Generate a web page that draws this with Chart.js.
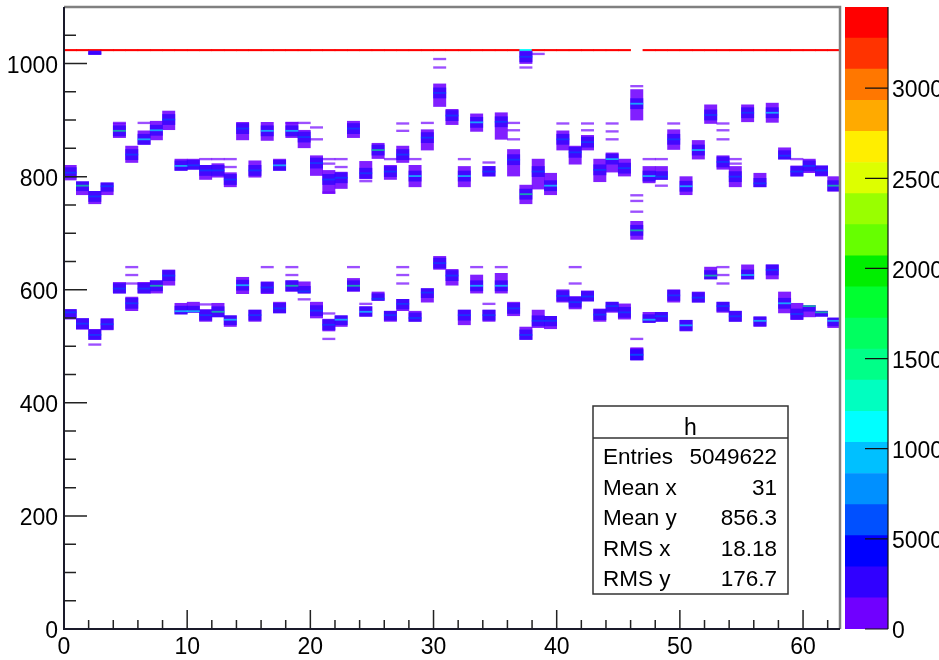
<!DOCTYPE html>
<html>
  <head>
    <meta charset="utf-8" />
    <title>h</title>
    <script src="https://cdn.jsdelivr.net/npm/chart.js@4.4.1/dist/chart.umd.min.js"></script>
    <style>
      body { margin: 0; background: #fff; }
      #wrap { position: relative; width: 939px; height: 660px; overflow: hidden; }
      #wrap canvas { position: absolute; left: 0; top: 0; }
    </style>
  </head>
  <body>
    <div id="wrap">
      <canvas id="hist" width="939" height="660"></canvas>
      <canvas id="pal" width="939" height="660"></canvas>
    </div>
    <script>
      // 2D histogram "h": 63 x bins (width 1), y 0..1100, colz palette 0..34500
      const xMin = 0, xMax = 63, yMin = 0, yMax = 1100, zMax = 34500;

      // upper band of each column: extent, brightest row and its content
      const upperLo = [794,768,752,768,869,825,857,865,883,811, 813,795,799,782,865,799,864,811,869,851,
        802,770,779,869,796,832,795,825,782,847, 924,892,782,880,801,866,801,752,778,768,
        847,822,847,791,808,801,900,789,795,848, 768,831,894,813,782,897,782,896,831,801, 807,801,774];
      const upperHi = [820,791,774,789,895,854,881,898,916,831, 831,820,823,807,896,828,896,831,896,882,
        837,811,808,898,827,859,820,854,820,883, 964,919,818,911,818,913,848,785,831,806,
        881,854,873,831,842,831,954,818,818,883, 800,864,927,837,818,927,806,930,851,819, 831,819,800];
      const upperPeak = [807,784,765,783,881,839,866,882,901,819, 820,811,811,795,885,811,881,820,881,870,
        824,795,798,885,806,847,809,839,801,869, 948,908,801,896,809,897,830,769,809,784,
        866,843,861,812,831,815,929,801,800,866, 783,847,909,826,800,913,788,913,837,809, 819,811,784];
      const upperPeakZ = [6000,14500,6000,6000,14500,6000,11000,11000,6000,11000,
        6000,6000,6000,6000,6000,6000,11000,11000,11000,6000,
        6000,6000,6000,6000,6000,14500,6000,6000,11000,6000,
        6000,6000,11000,11000,6000,6000,6000,14500,6000,11000,
        6000,6000,6000,6000,11000,6000,11000,11000,6000,6000,
        11000,11000,6000,6000,6000,6000,6000,11000,6000,6000, 6000,6000,14500];

      // lower band of each column
      const lowerLo = [548,530,512,529,594,563,594,594,608,557, 560,544,552,535,593,544,593,559,597,594,
        550,527,535,597,553,581,544,563,544,578, 636,608,538,594,544,594,554,512,533,531,
        578,566,580,544,560,548,476,542,544,578, 527,578,619,560,544,619,535,619,559,547, 552,553,533];
      const lowerHi = [565,549,530,549,613,587,613,616,635,576, 578,565,576,554,622,564,614,578,616,614,
        578,548,554,620,570,596,562,583,562,602, 659,636,564,626,564,629,578,534,564,553,
        600,588,598,566,578,575,497,560,560,600, 546,596,640,578,562,644,552,644,596,576, 572,562,550];
      const lowerPeak = [560,540,520,539,602,576,602,607,625,562, 562,555,561,547,608,555,604,567,607,597,
        563,538,547,607,561,584,555,575,550,595, 647,625,555,607,555,607,567,520,545,545,
        589,578,588,556,571,560,485,547,553,590, 537,586,625,571,553,626,545,635,576,557, 571,560,545];
      const lowerPeakZ = [6000,6000,6000,6000,6000,6000,6000,14500,6000,11000,
        11000,6000,14500,11000,11000,6000,6000,6000,14500,6000,
        6000,6000,11000,14500,11000,6000,6000,6000,6000,6000,
        6000,6000,6000,11000,6000,11000,6000,6000,6000,6000,
        6000,6000,6000,6000,6000,6000,6000,11000,6000,6000,
        11000,6000,14500,6000,6000,11000,11000,6000,11000,6000, 14500,14500,11000];

      // isolated blocks outside the two bands
      const extraBin = [2, 37, 46, 46];
      const extraLo = [1016, 1000, 689, 476];
      const extraHi = [1022, 1022, 721, 497];
      const extraPeak = [1018, 1012, 705, 485];
      const extraPeakZ = [3000, 6000, 14500, 6000];

      // single sparse rows
      const strayBin = [4,6,11,12,13,13,18,19,20,20,21,21,21,22,22,24,26,27,27,28,29,30,30,32,34,36,36,36,37,38,
        40,42,42,44,44,44,46,47,48,48,49,53,53,53,54,54,59,
        2,5,5,5,6,11,16,18,18,19,21,21,23,24,27,27,27,33,34,35,41,41,46,46,46,46,53,53,53];
      const strayY = [895,895,831,831,831,817,895,895,887,866,831,823,772,831,817,792,831,894,881,831,895,1008,993,831,825,895,882,866,993,1017,
        894,894,882,894,880,866,960,831,831,784,894,894,882,866,831,823,831,
        503,640,626,611,611,574,640,640,626,583,558,513,640,575,640,626,611,640,575,640,640,611,767,757,738,513,640,626,611];

      // saturated row at y = 1023 (overflow of the digitiser)
      const ceilingY = [1022.5, 1025];
      const ceilingZ = [33500,33500,33500,33500,33500,33500,33500,33500,33500,33500,
        33500,33500,33500,33500,33500,33500,33500,33500,33500,33500,
        33500,33500,33500,33500,33500,33500,33500,33500,33500,33500,
        33500,33500,33500,33500,33500,33500,33500,11000,33500,33500,
        33500,33500,33500,33500,33500,33500,0,33500,33500,33500,
        33500,33500,33500,33500,33500,33500,33500,33500,33500,33500, 33500,33500,33500];

      const bodyZ = 1000, coreZ = 3000, strayZ = 1200;

      // axis ticks and labels
      const xLabels = [0, 10, 20, 30, 40, 50, 60];
      const xMinorTicks = [2,4,6,8,12,14,16,18,22,24,26,28,32,34,36,38,42,44,46,48,52,54,56,58,62];
      const yLabels = [0, 200, 400, 600, 800, 1000];
      const yMinorTicks = [50,100,150,250,300,350,450,500,550,650,700,750,850,900,950,1050];
      const zLabels = [0, 5000, 10000, 15000, 20000, 25000, 30000];

      // stats box
      const statTitle = "h";
      const statNames = ["Entries", "Mean x", "Mean y", "RMS x", "RMS y"];
      const statValues = ["5049622", "31", "856.3", "18.18", "176.7"];

      const paletteColors = ["#7000ff","#3000ff","#0000ff","#0050ff","#0090ff","#00c0ff","#00ffff","#00ffc0",
        "#00ff88","#00ff60","#00ff30","#00ee00","#66ff00","#99ff00","#ddff00","#ffee00","#ffaa00","#ff7700","#ff3300","#ff0000"];
      const FONT = "'Liberation Sans', Arial, Helvetica, sans-serif";

      function zColor(z) {
        const k = Math.min(paletteColors.length - 1, Math.floor(z / zMax * paletteColors.length));
        return paletteColors[k];
      }

      // one set of floating bars (cells) at bin centres
      function layer(bins, lo, hi, zs, order, alpha) {
        const keep = bins.map((b, i) => i).filter((i) => zs[i] > 0);
        const hex = (c) => alpha ? c + alpha : c;
        return {
          order: order,
          data: keep.map((i) => ({ x: bins[i] + 0.5, y: [lo[i], hi[i]] })),
          backgroundColor: keep.map((i) => hex(zColor(zs[i]))),
          grouped: false,
          barPercentage: 1,
          categoryPercentage: 1,
          borderWidth: 0,
        };
      }

      const allBins = upperLo.map((v, i) => i);
      const clip = (v, lo, hi) => Math.max(lo, Math.min(hi, v));
      const bandBins = allBins.concat(allBins, extraBin);
      const bandLo = upperLo.concat(lowerLo, extraLo);
      const bandHi = upperHi.concat(lowerHi, extraHi);
      const bandPeak = upperPeak.concat(lowerPeak, extraPeak);
      const bandPeakZ = upperPeakZ.concat(lowerPeakZ, extraPeakZ);

      // lower "order" is drawn on top
      const datasets = [
        layer(allBins, allBins.map(() => ceilingY[0]), allBins.map(() => ceilingY[1]), ceilingZ, 5),
        layer(bandBins, bandLo, bandHi, bandBins.map(() => bodyZ), 4, "e0"),
        layer(strayBin, strayY.map((y) => y - 1.5), strayY.map((y) => y + 1.5), strayBin.map(() => strayZ), 3, "b0"),
        layer(bandBins,
          bandPeak.map((p, i) => clip(p - 9, bandLo[i], bandHi[i])),
          bandPeak.map((p, i) => clip(p + 9, bandLo[i], bandHi[i])),
          bandBins.map(() => coreZ), 2, "c0"),
        layer(bandBins, bandPeak.map((p) => p - 1), bandPeak.map((p) => p + 1), bandPeakZ, 1, "a0"),
      ];

      const plainLabel = (v) => String(v);
      const noEdgePadding = (s) => { s.paddingTop = 0; s.paddingBottom = 0; s.paddingLeft = 0; s.paddingRight = 0; };

      // frame, inward ticks and the stats box
      const histDecor = {
        id: "histDecor",
        afterDraw(chart) {
          const { ctx, chartArea: a, scales } = chart;
          const sx = scales.x, sy = scales.y;
          ctx.save();
          ctx.strokeStyle = "#222";
          ctx.lineWidth = 1.5;
          ctx.beginPath();
          xLabels.forEach((v) => { const p = sx.getPixelForValue(v); ctx.moveTo(p, a.bottom); ctx.lineTo(p, a.bottom - 19); });
          xMinorTicks.forEach((v) => { const p = sx.getPixelForValue(v); ctx.moveTo(p, a.bottom); ctx.lineTo(p, a.bottom - 9); });
          yLabels.forEach((v) => { const p = sy.getPixelForValue(v); ctx.moveTo(a.left, p); ctx.lineTo(a.left + 23, p); });
          yMinorTicks.forEach((v) => { const p = sy.getPixelForValue(v); ctx.moveTo(a.left, p); ctx.lineTo(a.left + 12, p); });
          ctx.stroke();

          // frame: dark axes, grey top/right
          ctx.lineWidth = 2.5;
          ctx.strokeStyle = "#808080";
          ctx.beginPath();
          ctx.moveTo(a.left, a.top); ctx.lineTo(a.right, a.top); ctx.lineTo(a.right, a.bottom);
          ctx.stroke();
          ctx.lineWidth = 2;
          ctx.strokeStyle = "#1a1a2a";
          ctx.beginPath();
          ctx.moveTo(a.left, a.top); ctx.lineTo(a.left, a.bottom); ctx.lineTo(a.right, a.bottom);
          ctx.stroke();

          // stats box
          const bx = 593, by = 406, bw = 195, bh = 188;
          ctx.fillStyle = "#fff";
          ctx.fillRect(bx, by, bw, bh);
          ctx.strokeStyle = "#333";
          ctx.lineWidth = 1.5;
          ctx.strokeRect(bx, by, bw, bh);
          ctx.beginPath();
          ctx.moveTo(bx, by + 32); ctx.lineTo(bx + bw, by + 32);
          ctx.stroke();
          ctx.fillStyle = "#000";
          ctx.font = "23px " + FONT;
          ctx.textAlign = "center";
          ctx.textBaseline = "alphabetic";
          ctx.fillText(statTitle, bx + bw / 2, by + 29);
          ctx.font = "22.5px " + FONT;
          statNames.forEach((n, i) => {
            const yb = 464 + 30.5 * i;
            ctx.textAlign = "left";
            ctx.fillText(n, bx + 10, yb);
            ctx.textAlign = "right";
            ctx.fillText(statValues[i], bx + 184, yb);
          });
          ctx.restore();
        },
      };

      new Chart(document.getElementById("hist"), {
        type: "bar",
        data: { datasets: datasets },
        options: {
          responsive: false,
          animation: false,
          events: [],
          layout: { padding: { top: 7, right: 99, left: 0, bottom: 0 } },
          plugins: { legend: { display: false }, tooltip: { enabled: false } },
          scales: {
            x: {
              type: "linear",
              min: xMin,
              max: xMax,
              offset: false,
              grid: { display: false, drawTicks: false },
              border: { display: false },
              afterBuildTicks: (s) => { s.ticks = xLabels.map((v) => ({ value: v })); },
              afterFit: (s) => { s.height = 31; noEdgePadding(s); },
              ticks: { color: "#000", font: { family: FONT, size: 23 }, padding: 5, maxRotation: 0, autoSkip: false, callback: plainLabel },
            },
            y: {
              type: "linear",
              min: yMin,
              max: yMax,
              grid: { display: false, drawTicks: false },
              border: { display: false },
              afterBuildTicks: (s) => { s.ticks = yLabels.map((v) => ({ value: v })); },
              afterFit: (s) => { s.width = 64; noEdgePadding(s); },
              ticks: { color: "#000", font: { family: FONT, size: 23 }, padding: 6, labelOffset: 3, callback: plainLabel },
            },
          },
        },
        plugins: [histDecor],
      });

      // colour palette on the right
      const paletteSets = paletteColors.map((c, k) => ({
        data: [[k * zMax / paletteColors.length, (k + 1) * zMax / paletteColors.length]],
        backgroundColor: c,
        grouped: false,
        barPercentage: 1,
        categoryPercentage: 1,
        borderWidth: 0,
      }));

      const paletteTicks = {
        id: "paletteTicks",
        afterDraw(chart) {
          const { ctx, chartArea: a, scales } = chart;
          ctx.save();
          ctx.strokeStyle = "#111";
          ctx.lineWidth = 1.2;
          ctx.beginPath();
          zLabels.forEach((v) => { const p = scales.y.getPixelForValue(v); ctx.moveTo(a.right - 23, p); ctx.lineTo(a.right, p); });
          ctx.moveTo(a.right, a.top); ctx.lineTo(a.right, a.bottom);
          ctx.stroke();
          ctx.restore();
        },
      };

      new Chart(document.getElementById("pal"), {
        type: "bar",
        data: { labels: ["z"], datasets: paletteSets },
        options: {
          responsive: false,
          animation: false,
          events: [],
          layout: { padding: { top: 7, right: 0, left: 845, bottom: 31 } },
          plugins: { legend: { display: false }, tooltip: { enabled: false } },
          scales: {
            x: { display: false },
            y: {
              position: "right",
              min: 0,
              max: zMax,
              grid: { display: false, drawTicks: false },
              border: { display: false },
              afterBuildTicks: (s) => { s.ticks = zLabels.map((v) => ({ value: v })); },
              afterFit: (s) => { s.width = 51; noEdgePadding(s); },
              ticks: { color: "#000", font: { family: FONT, size: 23 }, padding: 4, labelOffset: 3, callback: plainLabel },
            },
          },
        },
        plugins: [paletteTicks],
      });
    </script>
  </body>
</html>
